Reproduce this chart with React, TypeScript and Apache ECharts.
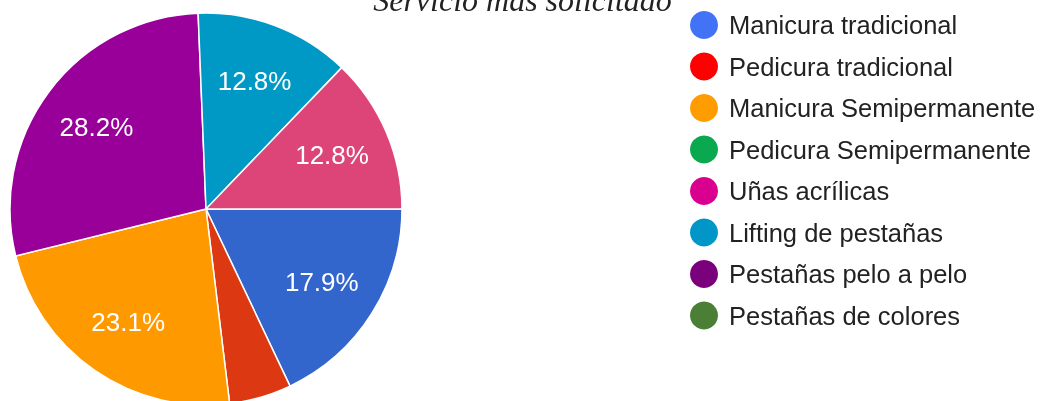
import React, { useEffect, useRef } from "react";
import * as echarts from "echarts";

const categories = [
  "Manicura tradicional",
  "Pedicura tradicional",
  "Manicura Semipermanente",
  "Pedicura Semipermanente",
  "Uñas acrílicas",
  "Lifting de pestañas",
  "Pestañas pelo a pelo",
  "Pestañas de colores",
];
const counts = [7, 2, 9, 0, 5, 5, 11, 0];
const sliceColors = ["#3366cc", "#dc3912", "#ff9900", "#109618", "#dd4477", "#0099c6", "#990099", "#4a7f32"];
const legendColors = ["#4272f5", "#ff0000", "#ff9d00", "#0aa84f", "#d9008f", "#0096c8", "#7a007c", "#4b7f35"];
// clockwise drawing order from 3 o'clock
const pieOrder = [0, 1, 2, 6, 5, 4, 3, 7];
const titleText = "Servicio más solicitado";

export default function App() {
  const ref = useRef<HTMLDivElement>(null);
  useEffect(() => {
    if (!ref.current) return;
    const chart = echarts.init(ref.current, null, { renderer: "svg" });
    const total = counts.reduce((a, b) => a + b, 0);
    const pct = (v: number) => ((v / total) * 100).toFixed(1) + "%";
    const sans = "Arial, 'Liberation Sans', sans-serif";
    chart.setOption({
      animation: false,
      title: {
        text: titleText,
        left: "center",
        top: -21,
        textStyle: {
          fontFamily: "'Liberation Serif', 'Times New Roman', serif",
          fontStyle: "italic",
          fontWeight: "normal",
          fontSize: 32,
          color: "#222",
        },
      },
      legend: {
        orient: "vertical",
        left: 685,
        top: 6,
        itemWidth: 28,
        itemHeight: 28,
        itemGap: 13.5,
        icon: "circle",
        selectedMode: false,
        itemStyle: { borderWidth: 0 },
        textStyle: { fontSize: 25.5, color: "#222", fontFamily: sans, padding: [0, 0, 0, 6] },
        data: categories.map((c, i) => ({ name: c, itemStyle: { color: legendColors[i], borderWidth: 0 } })),
      },
      series: [
        {
          type: "pie",
          center: [206, 209],
          radius: [0, 196],
          startAngle: 0,
          clockwise: true,
          silent: true,
          label: { show: false },
          labelLine: { show: false },
          emphasis: { disabled: true },
          data: pieOrder.map((i) => ({
            name: categories[i],
            value: counts[i],
            itemStyle: {
              color: sliceColors[i],
              borderColor: "#ffffff",
              borderWidth: counts[i] ? 1.5 : 0,
            },
          })),
        },
        {
          type: "pie",
          center: [206, 209],
          radius: [72, 196],
          startAngle: 0,
          clockwise: true,
          silent: true,
          labelLine: { show: false },
          emphasis: { disabled: true },
          label: {
            show: true,
            position: "inside",
            color: "#ffffff",
            fontSize: 26,
            fontFamily: sans,
            formatter: (p: any) => pct(p.value),
          },
          data: pieOrder.map((i) => ({
            name: categories[i],
            value: counts[i],
            itemStyle: { color: "rgba(0,0,0,0)", borderWidth: 0 },
            label: { show: (counts[i] / total) * 100 >= 8 },
          })),
        },
      ],
    });
    return () => chart.dispose();
  }, []);
  return <div ref={ref} style={{ position: "fixed", left: 0, top: 0, width: 1045, height: 401 }} />;
}
